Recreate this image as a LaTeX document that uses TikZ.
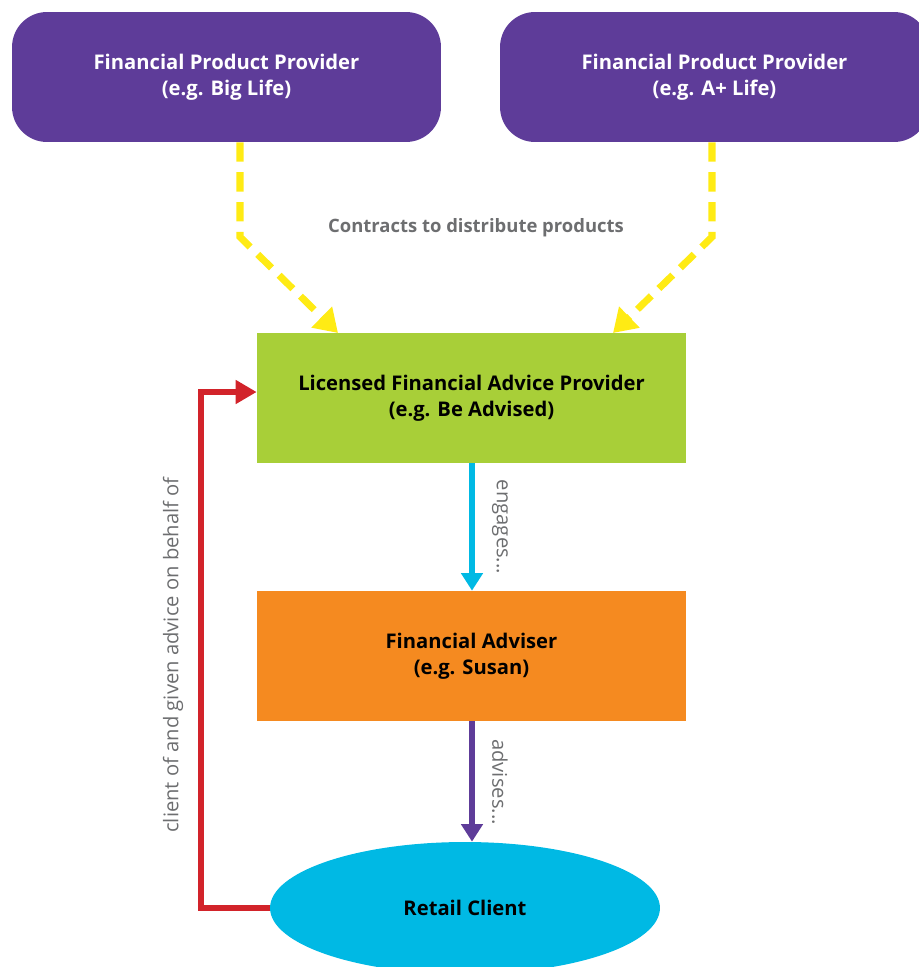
\documentclass[tikz,border=0pt]{standalone}
\usepackage{fontspec}
\setmainfont{Open Sans}
\usetikzlibrary{arrows.meta,shapes.geometric}
\definecolor{provpurple}{HTML}{5E3C99}
\definecolor{licgreen}{HTML}{A8CF38}
\definecolor{advorange}{HTML}{F58A20}
\definecolor{clientcyan}{HTML}{00B9E4}
\definecolor{contryellow}{HTML}{FFEB14}
\definecolor{backred}{HTML}{D2232A}
\definecolor{labelgrey}{HTML}{6D6E70}
\begin{document}
\begin{tikzpicture}[x = 0.02cm, y = -0.02cm,
  provider/.style={fill=provpurple, rounded corners=0.7cm, minimum width=8.58cm, minimum height=2.6cm, text=white, font=\fontsize{11.5}{14.8}\selectfont\bfseries, align=center},
  flatbox/.style={minimum width=8.58cm, minimum height=2.6cm, font=\fontsize{11.5}{14.8}\selectfont\bfseries, align=center},
  linklabel/.style={text=labelgrey, font=\fontsize{10.5}{12}\selectfont\bfseries},
  sidelabel/.style={text=labelgrey, font=\fontsize{11.5}{13}\selectfont},
  contract/.style={draw=contryellow, line width=4pt, dash pattern=on 11pt off 6pt, -{Triangle[length=13pt, width=16pt]}}]
\useasboundingbox (0, 0) rectangle (919, 967);

\node[provider] (biglife) at (226.5, 77) {Financial Product Provider\\(e.g. Big Life)};
\node[provider] (aplus) at (714.5, 77) {Financial Product Provider\\(e.g. A+ Life)};

\node[flatbox, fill=licgreen] (lfap) at (471.5, 398) {Licensed Financial Advice Provider\\(e.g. Be Advised)};
\node[flatbox, fill=advorange] (adviser) at (471.5, 656) {Financial Adviser\\(e.g. Susan)};
\node[ellipse, fill=clientcyan, minimum width=7.8cm, minimum height=2.64cm, font=\fontsize{11.5}{14.8}\selectfont\bfseries] (client) at (465, 908) {Retail Client};

% contracts
\coordinate (bendl) at (240, 237);
\coordinate (bendr) at (712, 237);
\coordinate (tipl) at (338, 333);
\coordinate (tipr) at (613, 333);
\draw[contract] (biglife.south -| bendl) -- (bendl) -- (tipl);
\draw[contract] (aplus.south -| bendr) -- (bendr) -- (tipr);
\node[linklabel] (contracts) at (476, 228) {Contracts to distribute products};

% down the chain
\draw[draw=clientcyan, line width=3.5pt, -{Triangle[length=10pt, width=12pt]}] (lfap.south -| 472, 0) -- (adviser.north -| 472, 0);
\node[sidelabel, rotate=-90] (engages) at (500, 527) {engages...};
\draw[draw=provpurple, line width=3.5pt, -{Triangle[length=10pt, width=12pt]}] (adviser.south -| 472, 0) -- (client.north -| 472, 0);
\node[sidelabel, rotate=-90] (advises) at (500, 782) {advises...};

% back to the provider
\coordinate (corner) at (201, 908);
\draw[draw=backred, line width=3.5pt, -{Triangle[length=12pt, width=13pt]}] (client.west) -- (corner) |- (lfap.west |- 0, 392);
\node[sidelabel, rotate=90] (behalf) at (173, 655) {client of and given advice on behalf of};

\end{tikzpicture}
\end{document}
